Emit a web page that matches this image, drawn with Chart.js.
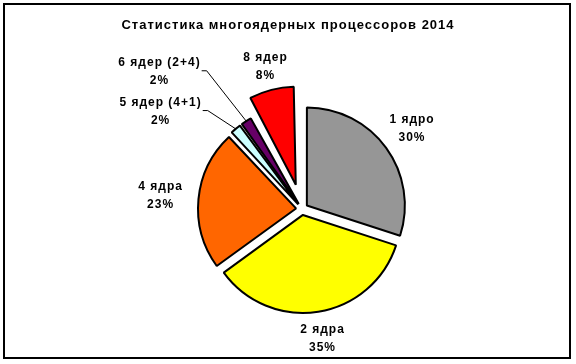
<!DOCTYPE html>
<html><head><meta charset="utf-8">
<script src="https://cdn.jsdelivr.net/npm/chart.js@4"></script>
<style>html,body{margin:0;padding:0;background:#fff}#wrap{width:576px;height:364px;position:relative}</style>
</head><body><div id="wrap"><canvas id="c" width="576" height="364"></canvas></div>
<script>
const TITLE = 'Статистика многоядерных процессоров 2014';
const categories = ['1 ядро', '2 ядра', '4 ядра', '5 ядер (4+1)', '6 ядер (2+4)', '8 ядер'];
const values = [30, 35, 23, 2, 2, 8];
const percentLabels = ['30%', '35%', '23%', '2%', '2%', '8%'];
const colors = ['#969696', '#FFFF00', '#FF6600', '#CCFFFF', '#660066', '#FF0000'];
const explode = [6, 6, 6, 6, 6, 25];          // px shift of each slice
const labelAngle = [null, null, null, 304, 313.5, null]; // deg from top, null = slice middle
const labelDist = [130, 125, 136, 166, 192, 122];       // px from slice apex
const leader = [false, false, false, true, true, false];
const RADIUS = 98;
const FONT = 'bold 12px "Liberation Sans", Arial, sans-serif';

const fixRadius = {
  id: 'fixRadius',
  beforeDatasetsDraw(chart) {
    chart.getDatasetMeta(0).data.forEach(arc => {
      const off = (arc.options.offset || 0) / 4;
      const fix = 1 - Math.sin(Math.min(Math.PI, arc.circumference));
      arc.outerRadius = RADIUS - off * fix;
    });
  }
};

function centered(ctx, txt, x, y) {
  const w = ctx.measureText(txt).width;
  ctx.textAlign = 'left';
  ctx.fillText(txt, x - w / 2, y);
  return w;
}

const decor = {
  id: 'decor',
  afterDraw(chart) {
    const ctx = chart.ctx;
    ctx.save();
    ctx.strokeStyle = '#000'; ctx.lineWidth = 2;
    ctx.strokeRect(4, 4, 566, 354);
    ctx.fillStyle = '#000';
    ctx.textBaseline = 'middle';
    ctx.letterSpacing = '1px';
    ctx.font = 'bold 13px "Liberation Sans", Arial, sans-serif';
    centered(ctx, TITLE, 288, 25);
    ctx.font = FONT;
    chart.getDatasetMeta(0).data.forEach((arc, i) => {
      const mid = (arc.startAngle + arc.endAngle) / 2;
      const off = (arc.options.offset || 0) / 4;
      const ax = arc.x + Math.cos(mid) * off, ay = arc.y + Math.sin(mid) * off;
      const a = labelAngle[i] == null ? mid : labelAngle[i] * Math.PI / 180 - Math.PI / 2;
      const lx = ax + Math.cos(a) * labelDist[i], ly = ay + Math.sin(a) * labelDist[i];
      ctx.fillStyle = '#000';
      const w = centered(ctx, categories[i], lx, ly - 9);
      centered(ctx, percentLabels[i], lx, ly + 9);
      if (leader[i]) {
        const sx = lx + w / 2 + 1;
        const ex = ax + Math.cos(mid) * RADIUS, ey = ay + Math.sin(mid) * RADIUS;
        ctx.lineWidth = 1; ctx.strokeStyle = '#000';
        ctx.beginPath();
        ctx.moveTo(sx, ly - 1); ctx.lineTo(sx + 5, ly - 1); ctx.lineTo(ex, ey);
        ctx.stroke();
      }
    });
    ctx.restore();
  }
};

new Chart(document.getElementById('c'), {
  type: 'pie',
  data: {
    labels: categories,
    datasets: [{
      data: values,
      backgroundColor: colors,
      borderColor: '#000',
      borderWidth: 2,
      offset: explode.map(e => e * 4),
      radius: RADIUS
    }]
  },
  options: {
    responsive: false,
    animation: false,
    events: [],
    layout: { padding: { left: 152, right: 124, top: 59, bottom: 5 } },
    plugins: { legend: { display: false }, tooltip: { enabled: false }, title: { display: false } }
  },
  plugins: [fixRadius, decor]
});
</script></body></html>
